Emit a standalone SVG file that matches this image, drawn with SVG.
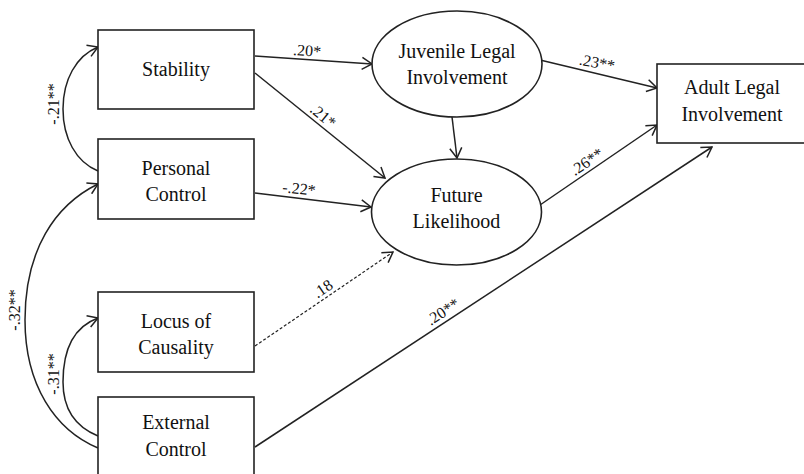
<svg xmlns="http://www.w3.org/2000/svg" width="804" height="474" viewBox="0 0 804 474">
<style>
.box{fill:#fff;stroke:#222;stroke-width:1.6}
text{font-family:"Liberation Serif","Times New Roman",Times,"DejaVu Serif",serif;fill:#111;text-anchor:middle}
.nt{font-size:20px}
.lb{font-size:16px}
.ln{fill:none;stroke:#222;stroke-width:1.5;marker-end:url(#ah)}
.dash{stroke-dasharray:3,2;stroke-width:1.2}
</style>
<defs>
<marker id="ah" markerUnits="userSpaceOnUse" markerWidth="12" markerHeight="14" refX="11" refY="7" orient="auto">
<path d="M1,1 L11,7 L1,13" fill="none" stroke="#222" stroke-width="1.5"/>
</marker>
</defs>
<rect width="804" height="474" fill="#fff"/>
<g id="connectors">
<path class="ln" d="M255,56 L372,64"/>
<path class="ln" d="M255,73 L385,178"/>
<path class="ln" d="M452,117 L457,158"/>
<path class="ln" d="M255,193 L371,207"/>
<path class="ln" d="M540,60 L657,88"/>
<path class="ln" d="M540,205 L657,125"/>
<path class="ln" d="M255,447 L712,147"/>
<path class="ln dash" d="M255,346 L393,252"/>
<path class="ln" d="M98,171 C76,162 63,138 63,109 C63,80 76,56 98,47"/>
<path class="ln" d="M98,448 C55,430 25,385 25,320 C25,250 55,205 98,184"/>
<path class="ln" d="M98,436 C76,427 63,410 63,382 C63,345 76,326 98,318"/>
<text class="lb" transform="translate(307,51) rotate(4)" y="5">.20*</text>
<text class="lb" transform="translate(323,116) rotate(39)" y="5">.21*</text>
<text class="lb" transform="translate(299,189) rotate(6)" y="5">-.22*</text>
<text class="lb" transform="translate(597,63) rotate(11)" y="5">.23**</text>
<text class="lb" transform="translate(587,162) rotate(-34)" y="5">.26**</text>
<text class="lb" transform="translate(323,289) rotate(-34)" y="5">.18</text>
<text class="lb" transform="translate(443,312) rotate(-33)" y="5">.20**</text>
<text class="lb" transform="translate(54,104) rotate(-90)" y="5">-.21**</text>
<text class="lb" transform="translate(15,310) rotate(-90)" y="5">-.32**</text>
<text class="lb" transform="translate(54,374) rotate(-90)" y="5">-.31**</text>
</g>
<g id="stability">
<rect class="box" x="98" y="30" width="156" height="79"/>
<text class="nt" x="176" y="76">Stability</text>
</g>
<g id="personal-control">
<rect class="box" x="98" y="139" width="156" height="80"/>
<text class="nt" x="176" y="175">Personal</text>
<text class="nt" x="176" y="201">Control</text>
</g>
<g id="locus-of-causality">
<rect class="box" x="98" y="292" width="156" height="80"/>
<text class="nt" x="176" y="328">Locus of</text>
<text class="nt" x="176" y="354">Causality</text>
</g>
<g id="external-control">
<rect class="box" x="98" y="397" width="156" height="80"/>
<text class="nt" x="176" y="429">External</text>
<text class="nt" x="176" y="456">Control</text>
</g>
<g id="juvenile-legal-involvement">
<ellipse class="box" cx="457" cy="64" rx="85" ry="53"/>
<text class="nt" x="457" y="58">Juvenile Legal</text>
<text class="nt" x="457" y="84">Involvement</text>
</g>
<g id="future-likelihood">
<ellipse class="box" cx="456.5" cy="212" rx="85" ry="53"/>
<text class="nt" x="456.5" y="202">Future</text>
<text class="nt" x="456.5" y="228">Likelihood</text>
</g>
<g id="adult-legal-involvement">
<rect class="box" x="657" y="64" width="150" height="79"/>
<text class="nt" x="732" y="94">Adult Legal</text>
<text class="nt" x="732" y="121">Involvement</text>
</g>
</svg>
